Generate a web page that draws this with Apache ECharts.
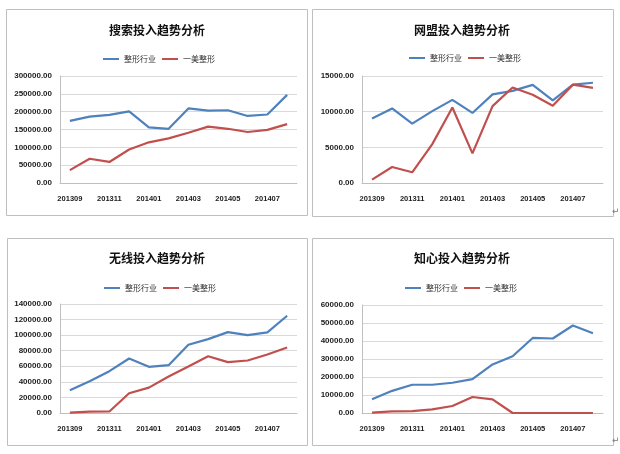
<!DOCTYPE html>
<html><head><meta charset="utf-8">
<script src="https://cdn.jsdelivr.net/npm/echarts@6/dist/echarts.min.js"></script>
<style>html,body{margin:0;padding:0;background:#fff}#c{width:620px;height:454px}</style>
</head><body><div id="c"></div>
<script>
const months = ['201309','201310','201311','201312','201401','201402','201403','201404','201405','201406','201407','201408'];
const seriesNames = ['整形行业','一美整形'];
const titles = ['搜索投入趋势分析','网盟投入趋势分析','无线投入趋势分析','知心投入趋势分析'];
const searchIndustry = [174000,186000,191000,201000,156000,152000,209000,203000,204000,188000,192000,247000];
const searchYimei = [36000,68000,59000,94000,114000,125000,141000,158000,152000,143000,149000,165000];
const unionIndustry = [9050,10450,8330,10080,11650,9820,12420,12920,13760,11580,13780,14050];
const unionYimei = [480,2250,1500,5450,10580,4150,10780,13380,12380,10830,13780,13330];
const wirelessIndustry = [29200,40800,53700,70000,59300,61400,87600,94900,103900,100000,103500,124900];
const wirelessYimei = [500,1800,2000,25300,32600,46800,59700,72800,65300,67400,75100,84200];
const zhixinIndustry = [7600,12300,15700,15700,16800,18800,27000,31500,41700,41400,48600,44300];
const zhixinYimei = [200,900,1000,2000,3900,8900,7600,0,0,0,0,0];
const yMax = [300000,15000,140000,60000];
const yInterval = [50000,5000,20000,10000];

const data = [[searchIndustry,searchYimei],[unionIndustry,unionYimei],[wirelessIndustry,wirelessYimei],[zhixinIndustry,zhixinYimei]];
const grids = [
  {left:60,top:76,width:237,height:107},
  {left:362,top:76,width:241,height:107},
  {left:60,top:304,width:237,height:109},
  {left:362,top:305,width:241,height:108}
];
const panels = [[6,9,301,206],[312,9,301,207],[7,238,300,207],[312,238,301,207]];
const titlePos = [[157,30],[462,30],[157,258],[462,258]];
const legendPos = [[98,50],[404,49],[99,279],[400,279]];
const colors = ['#4f81bd','#c0504d'];
const numFont = 'Liberation Sans, Arial, sans-serif';

const option = {
  backgroundColor:'#fff',
  animation:false,
  grid: grids,
  xAxis: grids.map((g,i)=>({
    type:'category', gridIndex:i, data:months, boundaryGap:true,
    axisLine:{lineStyle:{color:'#bfbfbf',width:1}},
    axisTick:{show:false},
    axisLabel:{interval:1,margin:12,fontSize:7.5,fontWeight:'bold',color:'#222',fontFamily:numFont}
  })),
  yAxis: grids.map((g,i)=>({
    type:'value', gridIndex:i, min:0, max:yMax[i], interval:yInterval[i],
    axisLine:{show:true,lineStyle:{color:'#bfbfbf',width:1}},
    axisTick:{show:false},
    splitLine:{lineStyle:{color:'#d9d9d9',width:1}},
    axisLabel:{margin:8,fontSize:8,fontWeight:'bold',color:'#222',fontFamily:numFont,formatter:v=>v.toFixed(2)}
  })),
  legend: legendPos.map(p=>({
    left:p[0], top:p[1], data:seriesNames, selectedMode:false,
    icon:'rect', itemWidth:16, itemHeight:2, itemGap:6,
    textStyle:{fontSize:8,color:'#333',fontFamily:'Noto Sans CJK SC'}
  })),
  series: [],
  graphic: []
};
data.forEach((pair,i)=>{
  pair.forEach((vals,k)=>{
    option.series.push({
      type:'line', name:seriesNames[k], xAxisIndex:i, yAxisIndex:i, data:vals,
      symbol:'none', lineStyle:{color:colors[k],width:2.2}, itemStyle:{color:colors[k]}
    });
  });
});
panels.forEach(p=>{
  option.graphic.push({type:'rect',shape:{x:p[0]+0.5,y:p[1]+0.5,width:p[2],height:p[3]},style:{fill:null,stroke:'#bfbfbf',lineWidth:1},z:-1});
});
titlePos.forEach((p,i)=>{
  option.graphic.push({type:'text',x:p[0],y:p[1],style:{text:titles[i],textAlign:'center',textVerticalAlign:'middle',font:'bold 12px "Noto Sans CJK SC", sans-serif',fill:'#111'}});
});
option.graphic.push({type:'text',x:612,y:207,style:{text:'↵',font:'9px "DejaVu Sans", sans-serif',fill:'#777'}});
option.graphic.push({type:'text',x:612,y:436,style:{text:'↵',font:'9px "DejaVu Sans", sans-serif',fill:'#777'}});

const chart = echarts.init(document.getElementById('c'),null,{renderer:'canvas'});
chart.setOption(option);
</script></body></html>
